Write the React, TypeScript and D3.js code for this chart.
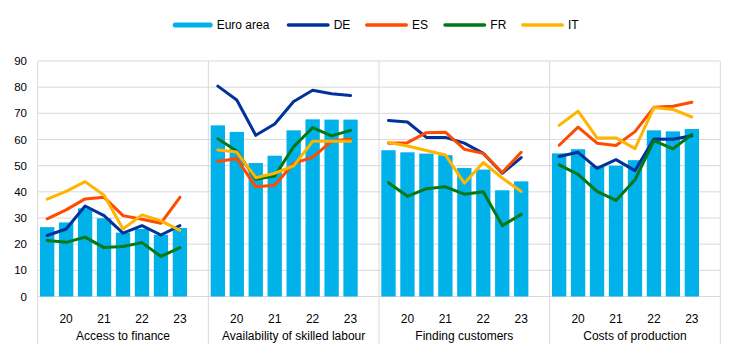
import * as d3 from 'd3';

const categories = ['Access to finance', 'Availability of skilled labour', 'Finding customers', 'Costs of production'];
const periods = ['19H2', '20H1', '20H2', '21H1', '21H2', '22H1', '22H2', '23H1'];
const tickLabels = ['', '20', '', '21', '', '22', '', '23'];

const euroArea = [
  [26.5, 28.3, 33.7, 29.9, 24.4, 25.8, 23.6, 26.2],
  [65.4, 62.9, 51.0, 53.8, 63.5, 67.7, 67.6, 67.6],
  [55.9, 55.1, 54.6, 54.0, 49.1, 48.5, 40.6, 44.0],
  [54.7, 56.3, 49.9, 50.0, 52.1, 63.5, 63.1, 64.0],
];
const de = [
  [23.3, 25.8, 34.6, 30.9, 24.2, 27.1, 23.5, 27.1],
  [80.4, 75.1, 61.6, 65.9, 74.5, 78.8, 77.5, 76.8],
  [67.3, 66.7, 60.8, 60.8, 58.6, 54.7, 47.1, 53.1],
  [53.5, 55.1, 49.0, 52.3, 48.1, 60.2, 60.1, 61.4],
];
const es = [
  [29.7, 33.1, 37.3, 37.9, 30.9, 29.5, 28.0, 37.9],
  [51.6, 52.7, 41.9, 42.5, 50.9, 53.2, 59.4, 60.2],
  [58.6, 58.8, 62.6, 62.8, 56.3, 54.7, 47.4, 55.1],
  [57.8, 64.7, 58.6, 57.7, 63.0, 72.3, 72.7, 74.2],
];
const fr = [
  [21.4, 20.7, 22.7, 18.7, 19.1, 20.6, 15.3, 18.7],
  [60.3, 55.6, 44.8, 46.0, 57.3, 64.5, 61.4, 63.5],
  [43.5, 38.3, 41.2, 41.9, 39.1, 40.0, 27.1, 31.4],
  [50.3, 46.7, 40.2, 36.7, 44.6, 59.6, 56.4, 61.9],
];
const it = [
  [37.2, 40.2, 43.9, 38.7, 25.8, 31.2, 28.9, 25.3],
  [56.0, 55.2, 45.4, 47.1, 49.9, 59.3, 59.3, 59.3],
  [58.9, 57.5, 55.8, 54.1, 43.3, 51.2, 45.3, 40.1],
  [65.4, 70.8, 60.6, 60.6, 56.5, 72.2, 71.5, 68.6],
];
const yTicks = [0, 10, 20, 30, 40, 50, 60, 70, 80, 90];

const lineSeries = [
  { name: 'DE', color: '#003299', values: de },
  { name: 'ES', color: '#FF4B00', values: es },
  { name: 'FR', color: '#007816', values: fr },
  { name: 'IT', color: '#FFB400', values: it },
];
const barColor = '#00B1EA';

export default function App() {
  const width = 744;
  const height = 354;
  const left = 37.7;
  const right = 720.3;
  const top = 61;
  const bottom = 296.5;

  const y = d3.scaleLinear().domain([0, 90]).range([bottom, top]);
  const panel = d3.scaleBand<string>().domain(categories).range([left, right]);
  // 9 slots per panel, last one left empty
  const slots = [...periods, ''];
  const x = d3.scaleBand<string>().domain(slots).range([0, panel.bandwidth()]).paddingInner(0.245).paddingOuter(0.1225);
  const cx = (p: string) => (x(p) as number) + x.bandwidth() / 2;

  const line = d3.line<number>()
    .x((_, i) => cx(periods[i]))
    .y(d => y(d));

  const font = 'Arial, "Liberation Sans", sans-serif';

  const legendItems = [
    { name: 'Euro area', color: barColor, x: 172.7, w: 40, h: 5 },
    { name: 'DE', color: '#003299', x: 286.7, w: 43, h: 3.5 },
    { name: 'ES', color: '#FF4B00', x: 365, w: 43, h: 3.5 },
    { name: 'FR', color: '#007816', x: 443.3, w: 43, h: 3.5 },
    { name: 'IT', color: '#FFB400', x: 521, w: 43, h: 3.5 },
  ];

  return (
    <svg width={width} height={height} style={{ position: 'absolute', left: 0, top: 0, background: 'white' }} fontFamily={font}>
      {/* legend */}
      {legendItems.map(l => (
        <g key={l.name}>
          <rect x={l.x} y={25 - l.h / 2} width={l.w} height={l.h} rx={l.h / 2} fill={l.color} />
          <text x={l.x + l.w + 4} y={25} dy="0.35em" fontSize={12} fill="#000">{l.name}</text>
        </g>
      ))}

      {/* gridlines */}
      {yTicks.map(t => (
        <g key={t}>
          <line x1={left} x2={right} y1={y(t)} y2={y(t)} stroke="#d9d9d9" strokeWidth={1} />
          <text x={27} y={y(t)} dy="0.35em" textAnchor="end" fontSize={11.5} fill="#000">{t}</text>
        </g>
      ))}

      {/* panel separators */}
      {[left, ...categories.map(c => (panel(c) as number) + panel.bandwidth())].map((sx, i) => (
        <line key={i} x1={sx} x2={sx} y1={top} y2={344} stroke="#d9d9d9" strokeWidth={1} />
      ))}

      {categories.map((c, ci) => {
        const px = panel(c) as number;
        return (
          <g key={c} transform={`translate(${px},0)`}>
            {euroArea[ci].map((v, i) => (
              <rect key={i} x={x(periods[i])} y={y(v)} width={x.bandwidth()} height={y(0) - y(v)} fill={barColor} />
            ))}
            {lineSeries.map(s => (
              <path key={s.name} d={line(s.values[ci]) || ''} fill="none" stroke={s.color} strokeWidth={3} strokeLinejoin="round" strokeLinecap="round" />
            ))}
            {tickLabels.map((t, i) => t ? (
              <text key={i} x={cx(periods[i])} y={319} dy="0.35em" textAnchor="middle" fontSize={12} fill="#000">{t}</text>
            ) : null)}
            <text x={panel.bandwidth() / 2} y={336} dy="0.35em" textAnchor="middle" fontSize={12} fill="#000">{c}</text>
          </g>
        );
      })}
    </svg>
  );
}
